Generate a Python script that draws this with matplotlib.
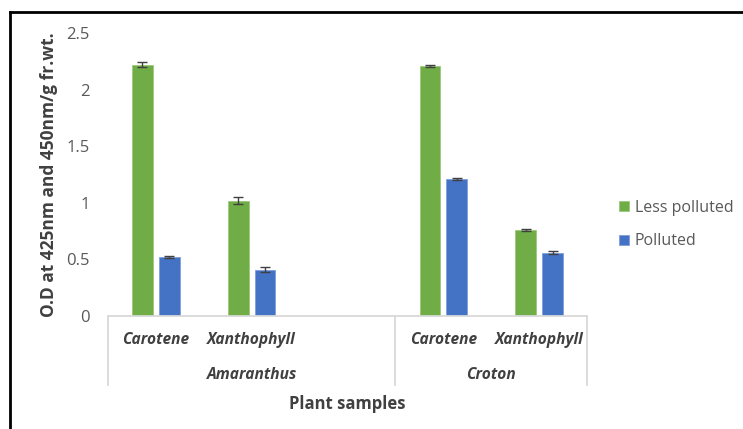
import matplotlib
matplotlib.use("Agg")
import matplotlib.pyplot as plt
from matplotlib.lines import Line2D
import numpy as np

plt.rcParams['font.family'] = ['Open Sans', 'DejaVu Sans']

# Pigment content per plant (O.D per g fresh weight)
plants = ["Amaranthus", "Croton"]
plant_slots = [3, 2]          # Amaranthus has an empty third slot on the category axis
pigments = ["Carotene", "Xanthophyll"]
less_polluted = [2.22, 1.02, 2.21, 0.76]
less_polluted_err = [0.02, 0.035, 0.01, 0.01]
polluted = [0.52, 0.41, 1.21, 0.56]
polluted_err = [0.01, 0.025, 0.01, 0.01]
series_names = ["Less polluted", "Polluted"]
yticks = [0, 0.5, 1, 1.5, 2, 2.5]
ytick_labels = ["0", "0.5", "1", "1.5", "2", "2.5"]

green = "#70AD47"
blue = "#4472C4"
grid_grey = "#D9D9D9"
text_grey = "#595959"
dark_grey = "#404040"

# x slot for every bar pair, leaving gaps where a group has unused slots
positions = []
group_edges = [0]
start = 0
for plant, n in zip(plants, plant_slots):
    positions += [start + i for i in range(len(pigments))]
    start += n
    group_edges.append(start)
positions = np.array(positions, dtype=float)
n_slots = sum(plant_slots)

fig = plt.figure(figsize=(7.43, 4.29), dpi=100)
ax = fig.add_axes([108 / 743, 113 / 429, 479 / 743, 283 / 429])

w = 0.215
off = 0.14
err_kw = dict(ecolor=dark_grey, elinewidth=1.0, capsize=3.5, capthick=1.0)
ax.bar(positions - off, less_polluted, w, color=green, edgecolor="#9CC97F",
       linewidth=0.6, yerr=less_polluted_err, error_kw=err_kw, label=series_names[0])
ax.bar(positions + off, polluted, w, color=blue, edgecolor="#7FA0DA",
       linewidth=0.6, yerr=polluted_err, error_kw=err_kw, label=series_names[1])

ax.set_xlim(-0.5, n_slots - 0.5)
ax.set_ylim(0, 2.5)
ax.set_yticks(yticks)
ax.set_yticklabels(ytick_labels, color=text_grey, fontsize=12)
ax.tick_params(axis='y', length=0, pad=13)
ax.set_xticks([])
for s in ["top", "right", "left"]:
    ax.spines[s].set_visible(False)
ax.spines["bottom"].set_color(grid_grey)
ax.spines["bottom"].set_linewidth(1.3)

ax.set_ylabel("O.D at 425nm and 450nm/g fr.wt.", fontsize=12.5, fontweight="bold",
              color=dark_grey, labelpad=6)

# Two-level category axis drawn below the plot area
trans = ax.get_xaxis_transform()
sep_bottom = -(385 - 316) / 283
for e in group_edges:
    ax.add_line(Line2D([e - 0.5, e - 0.5], [0, sep_bottom], transform=trans,
                       color=grid_grey, lw=1.3, clip_on=False))
for i, x in enumerate(positions):
    ax.text(x, -(340 - 316) / 283, pigments[i % len(pigments)], transform=trans,
            ha="center", va="center", fontsize=11.2, fontweight="bold",
            fontstyle="italic", color=dark_grey)
for plant, lo, n in zip(plants, group_edges[:-1], plant_slots):
    ax.text(lo + (n - 1) / 2, -(375 - 316) / 283, plant, transform=trans,
            ha="center", va="center", fontsize=11.2, fontweight="bold",
            fontstyle="italic", color=dark_grey)
ax.text(0.5, -(404 - 316) / 283, "Plant samples", transform=ax.transAxes,
        ha="center", va="center", fontsize=12, fontweight="bold", color=dark_grey)

ax.legend(loc="center left", bbox_to_anchor=(619 / 743, 1 - 224.5 / 429),
          bbox_transform=fig.transFigure, frameon=False, fontsize=11.5,
          labelcolor=text_grey, handlelength=0.6, handleheight=0.6,
          handletextpad=0.4, labelspacing=1.1, borderpad=0, borderaxespad=0)

# outer frame (top and left edges)
fig.add_artist(Line2D([10 / 743, 1.0], [1 - 11.5 / 429, 1 - 11.5 / 429],
                      transform=fig.transFigure, color="black", lw=2))
fig.add_artist(Line2D([10 / 743, 10 / 743], [0, 1 - 11.5 / 429],
                      transform=fig.transFigure, color="black", lw=2))

fig.savefig("out.png", dpi=100)
